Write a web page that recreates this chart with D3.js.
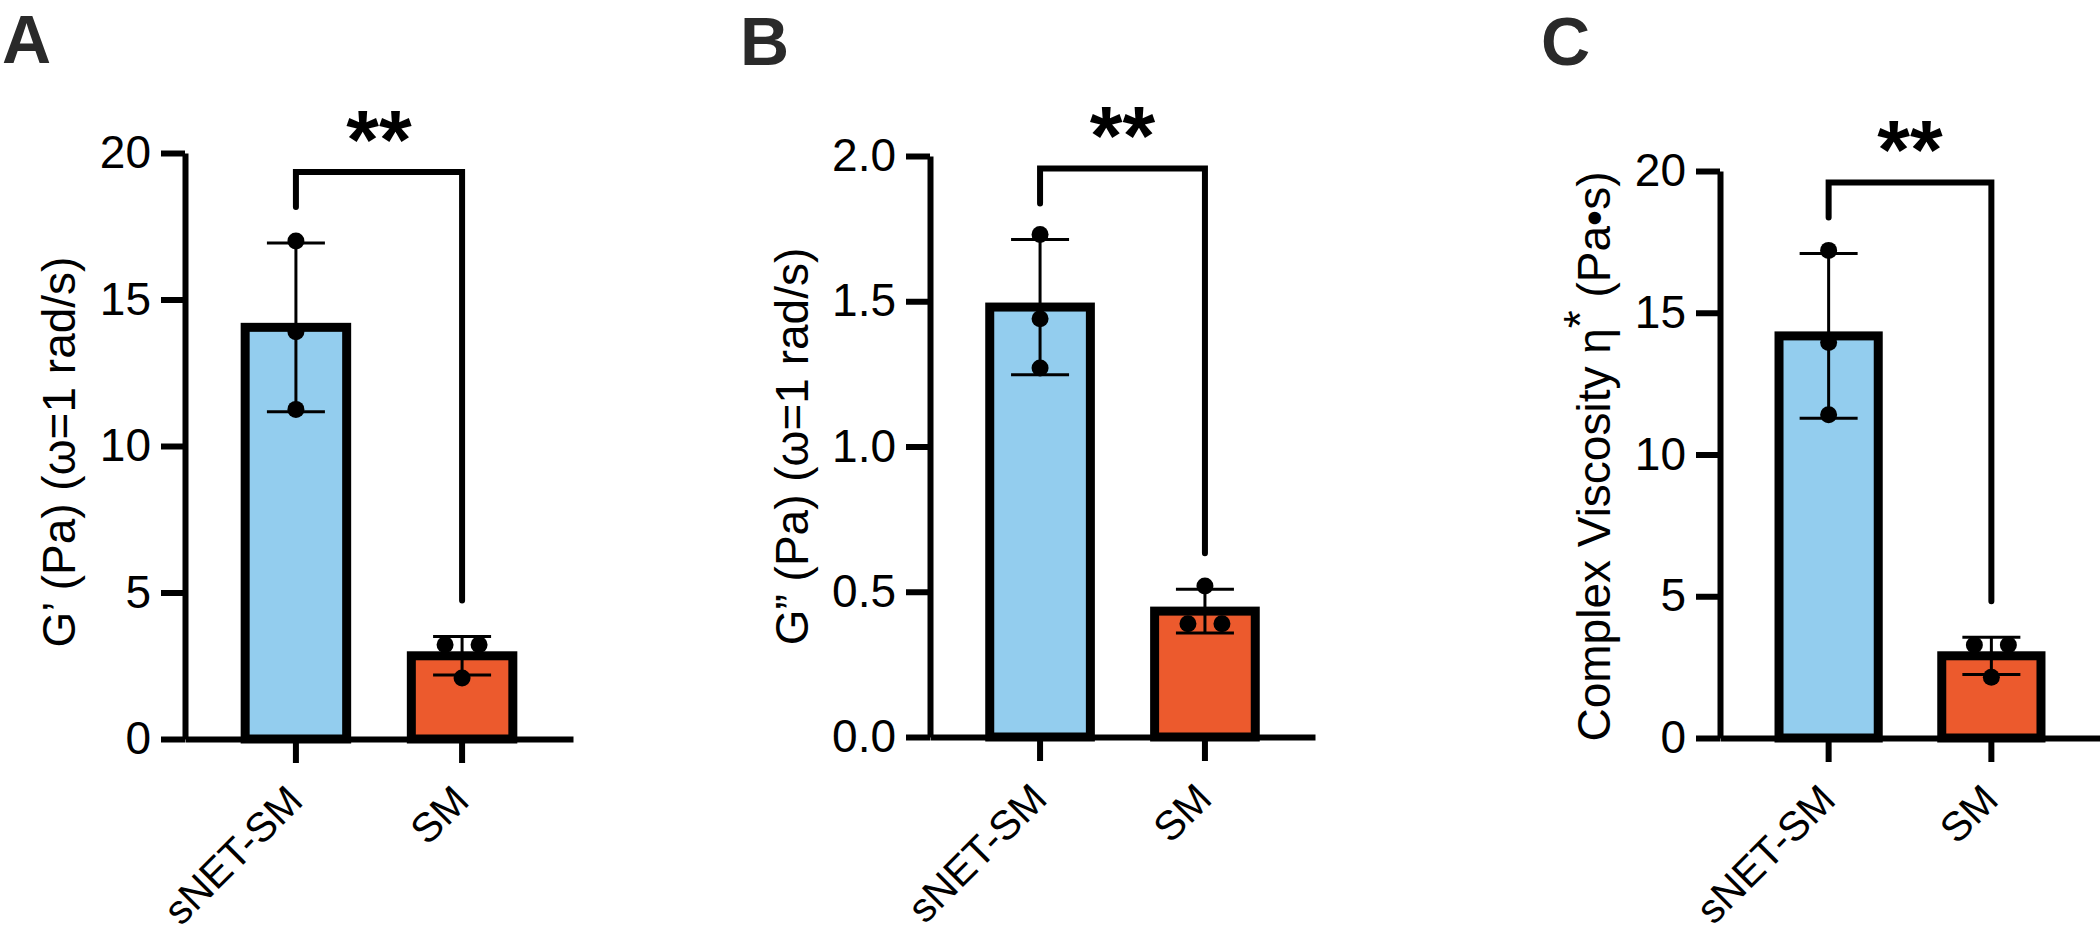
<!DOCTYPE html>
<html>
<head>
<meta charset="utf-8">
<script src="https://cdn.jsdelivr.net/npm/d3@7"></script>
<style>
  body { margin: 0; background: #fff; }
  svg { display: block; }
</style>
</head>
<body>
<script>
// data (three replicates per group)
const categories = ['sNET-SM', 'SM'];

const gPrimeSNET = [17.0, 13.9, 11.25];
const gPrimeSM = [3.22, 3.22, 2.08];

const gDoubleSNET = [1.73, 1.44, 1.27];
const gDoubleSM = [0.52, 0.39, 0.39];

const viscositySNET = [17.2, 13.95, 11.4];
const viscositySM = [3.28, 3.28, 2.14];

const ticksAC = [0, 5, 10, 15, 20];
const ticksB = [0, 0.5, 1.0, 1.5, 2.0];

const significance = ['**', '**', '**'];
const panelLetters = ['A', 'B', 'C'];

const fillColors = ['#93CDEE', '#EC5A2D'];
const font = '"Liberation Sans", Arial, Helvetica, sans-serif';

const svg = d3.select('body').append('svg')
    .attr('width', 2100)
    .attr('height', 933)
    .style('font-family', font);

const panels = [
    {
        letter: panelLetters[0], letterX: 2, letterY: 63,
        left: 185, right: 573, top: 153, bottom: 739,
        yMax: 20, ticks: ticksAC, fmt: d3.format('d'),
        series: [gPrimeSNET, gPrimeSM],
        titleX: 75, titleShift: 6, title: [{ t: 'G\u2019 (Pa) (\u03C9=1 rad/s)' }],
        stars: significance[0]
    },
    {
        letter: panelLetters[1], letterX: 740, letterY: 65,
        left: 930, right: 1315, top: 156, bottom: 737,
        yMax: 2, ticks: ticksB, fmt: d3.format('.1f'),
        series: [gDoubleSNET, gDoubleSM],
        titleX: 808, titleShift: 0, title: [{ t: 'G\u201D (Pa) (\u03C9=1 rad/s)' }],
        stars: significance[1]
    },
    {
        letter: panelLetters[2], letterX: 1541, letterY: 65,
        left: 1720, right: 2100, top: 171, bottom: 738,
        yMax: 20, ticks: ticksAC, fmt: d3.format('d'),
        series: [viscositySNET, viscositySM],
        titleX: 1610, titleShift: 2, title: [{ t: 'Complex Viscosity \u03B7' }, { t: '*', sup: true }, { t: ' (Pa\u2022s)' }],
        stars: significance[2]
    }
];

panels.forEach(p => drawPanel(p));

function drawPanel(p) {
    const g = svg.append('g');

    const x = d3.scaleBand()
        .domain(categories)
        .range([p.left, p.right])
        .paddingInner(0.335)
        .paddingOuter(0.335);

    const y = d3.scaleLinear()
        .domain([0, p.yMax])
        .range([p.bottom, p.top]);

    const stats = p.series.map((vals, i) => ({
        cat: categories[i],
        vals: vals,
        mean: d3.mean(vals),
        sd: d3.deviation(vals)
    }));
    const cx = d => x(d.cat) + x.bandwidth() / 2;

    // bars
    g.selectAll('rect.bar')
        .data(stats)
        .join('rect')
        .attr('class', 'bar')
        .attr('x', d => x(d.cat) + 4.5)
        .attr('y', d => y(d.mean))
        .attr('width', x.bandwidth() - 9)
        .attr('height', d => y(0) - y(d.mean))
        .attr('fill', (d, i) => fillColors[i])
        .attr('stroke', '#000')
        .attr('stroke-width', 9);

    // error bars (mean +/- SD)
    const err = g.selectAll('g.err')
        .data(stats)
        .join('g')
        .attr('class', 'err')
        .attr('stroke', '#000')
        .attr('stroke-width', 3);
    err.append('line')
        .attr('x1', cx).attr('x2', cx)
        .attr('y1', d => y(d.mean + d.sd))
        .attr('y2', d => y(d.mean - d.sd));
    err.selectAll('line.cap')
        .data(d => [d.mean + d.sd, d.mean - d.sd].map(v => ({ c: cx(d), v })))
        .join('line')
        .attr('class', 'cap')
        .attr('x1', d => d.c - 29).attr('x2', d => d.c + 29)
        .attr('y1', d => y(d.v)).attr('y2', d => y(d.v));

    // replicate points, equal values spread sideways
    const pts = [];
    stats.forEach(d => {
        const groups = d3.group(d.vals, v => v);
        groups.forEach(list => {
            list.forEach((v, j) => {
                pts.push({ x: cx(d) + (j - (list.length - 1) / 2) * 34, v });
            });
        });
    });
    g.selectAll('circle.pt')
        .data(pts)
        .join('circle')
        .attr('class', 'pt')
        .attr('cx', d => d.x)
        .attr('cy', d => y(d.v))
        .attr('r', 8.5)
        .attr('fill', '#000');

    // axes
    const yAxis = g.append('g')
        .attr('transform', `translate(${p.left},0)`)
        .call(d3.axisLeft(y)
            .tickValues(p.ticks)
            .tickFormat(p.fmt)
            .tickSize(24)
            .tickSizeOuter(0)
            .tickPadding(10));

    const xAxis = g.append('g')
        .attr('transform', `translate(0,${p.bottom})`)
        .call(d3.axisBottom(x)
            .tickSize(24)
            .tickSizeOuter(0));

    xAxis.selectAll('text')
        .attr('x', 0).attr('y', 0).attr('dy', 0)
        .attr('transform', 'translate(9,64) rotate(-45)')
        .style('text-anchor', 'end')
        .style('font-size', '41px');

    [yAxis, xAxis].forEach(a => {
        a.select('.domain').attr('stroke-width', 6);
        a.selectAll('.tick line').attr('stroke-width', 6);
        a.selectAll('text')
            .attr('fill', '#000')
            .style('font-family', font);
    });
    yAxis.selectAll('text').style('font-size', '46px');

    // significance bracket
    const topL = y(stats[0].mean + stats[0].sd);
    const topR = y(stats[1].mean + stats[1].sd);
    const bTop = Math.min(topL, topR) - 71;
    const xL = cx(stats[0]), xR = cx(stats[1]);
    g.append('path')
        .attr('d', `M${xL},${topL - 36}V${bTop}H${xR}V${topR - 36}`)
        .attr('fill', 'none')
        .attr('stroke', '#000')
        .attr('stroke-width', 6)
        .attr('stroke-linecap', 'round');
    g.append('text')
        .attr('x', (xL + xR) / 2)
        .attr('y', bTop - 3)
        .attr('text-anchor', 'middle')
        .style('font-size', '84px')
        .style('font-weight', 'bold')
        .text(p.stars);

    // y title
    const title = g.append('text')
        .attr('transform', `translate(${p.titleX},${(p.top + p.bottom) / 2 + p.titleShift}) rotate(-90)`)
        .attr('text-anchor', 'middle')
        .style('font-size', '46px')
        .attr('fill', '#000');
    p.title.forEach(s => {
        const ts = title.append('tspan').text(s.t);
        if (s.sup) ts.attr('baseline-shift', '30%');
    });

    // panel letter
    svg.append('text')
        .attr('x', p.letterX)
        .attr('y', p.letterY)
        .style('font-size', '68px')
        .style('font-weight', 'bold')
        .attr('fill', '#2A2A2A')
        .text(p.letter);
}
</script>
</body>
</html>
